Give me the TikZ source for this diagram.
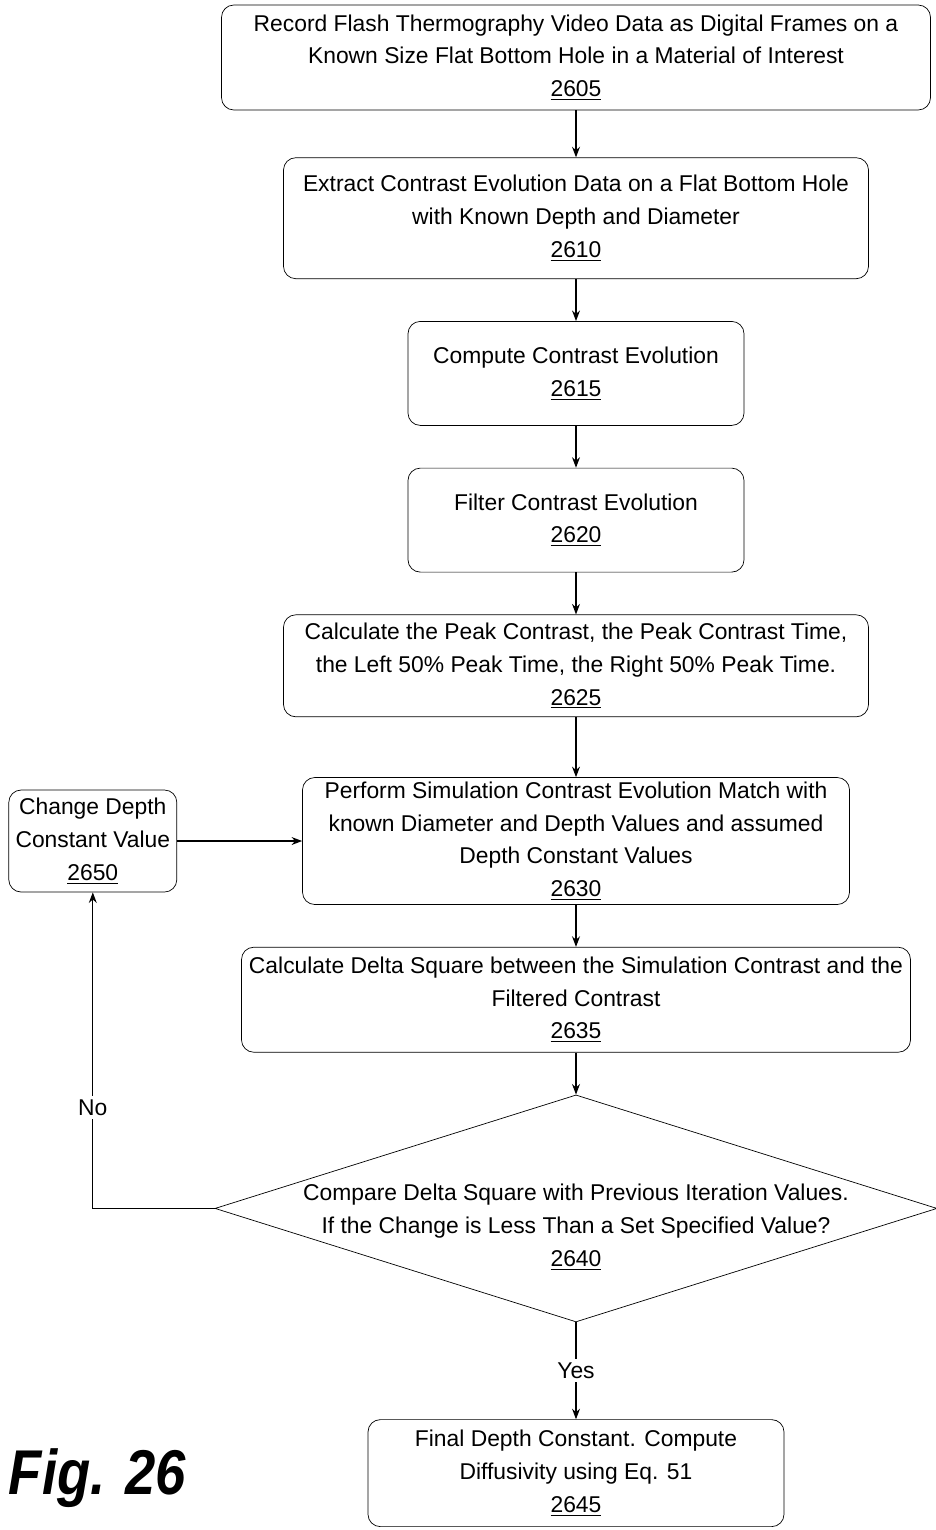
\documentclass[tikz,border=0pt]{standalone}
\usepackage{fontspec}
\setmainfont{Liberation Sans}
\newfontfamily\figfont{Liberation Sans}[FakeStretch=0.86]
\usepackage{tikz}
\usetikzlibrary{arrows.meta,shapes.geometric,positioning,calc}

\begin{document}
\begin{tikzpicture}[
    node distance=0.86cm,
    base/.style={draw, rectangle, rounded corners=7pt,
                 align=center, inner sep=1pt,
                 font=\fontsize{13}{18.7}\selectfont},
    wide/.style={base, minimum width=11.7cm},
    small/.style={base, minimum width=6.72cm, minimum height=2.08cm},
    decide/.style={draw, diamond, aspect=3.18, inner sep=0pt,
                   minimum width=14.44cm, minimum height=4.54cm},
    decidetext/.style={align=center, inner sep=0pt,
                       font=\fontsize{13}{18.7}\selectfont},
    arr/.style={-{Stealth[length=6pt,width=4.5pt]}, line width=0.7pt},
    lbl/.style={fill=white, inner sep=2pt,
                font=\fontsize{13}{15}\selectfont},
  ]
    \useasboundingbox (0,0) rectangle (18.7,-30.6);

    % ---- Main column, top to bottom ----
    \node[base, minimum width=14.18cm, minimum height=2.1cm] (A) at (11.52,-1.15)
      {Record Flash Thermography Video Data as Digital Frames on a\\
       Known Size Flat Bottom Hole in a Material of Interest\\\underline{2605}};
    \node[wide, minimum height=2.42cm, below=0.94cm of A] (B)
      {Extract Contrast Evolution Data on a Flat Bottom Hole\\
       with Known Depth and Diameter\\\underline{2610}};
    \node[small, below=0.84cm of B] (C)
      {Compute Contrast Evolution\\\underline{2615}};
    \node[small, below=0.84cm of C] (D)
      {Filter Contrast Evolution\\\underline{2620}};
    \node[wide, minimum height=2.04cm, below=0.84cm of D] (E)
      {Calculate the Peak Contrast, the Peak Contrast Time,\\
       the Left 50\% Peak Time, the Right 50\% Peak Time.\\\underline{2625}};
    \node[base, minimum width=10.94cm, minimum height=2.54cm, below=1.2cm of E] (F)
      {Perform Simulation Contrast Evolution Match with\\
       known Diameter and Depth Values and assumed\\
       Depth Constant Values\\\underline{2630}};
    \node[base, minimum width=13.38cm, minimum height=2.1cm, below=0.84cm of F] (G)
      {Calculate Delta Square between the Simulation Contrast and the\\
       Filtered Contrast\\\underline{2635}};
    \node[decide, below=0.84cm of G] (H) {};
    \node[decidetext] (Htext) at ([yshift=-0.38cm]H.center)
      {Compare Delta Square with Previous Iteration Values.\\
       If the Change is Less Than a Set Specified Value?\\\underline{2640}};
    \node[base, minimum width=8.32cm, minimum height=2.14cm, below=1.94cm of H] (I)
      {Final Depth Constant. Compute\\
       Diffusivity using Eq. 51\\\underline{2645}};

    % ---- Side box for the loop ----
    \node[base, minimum width=3.36cm, minimum height=2.04cm, left=2.5cm of F] (K)
      {Change Depth\\Constant Value\\\underline{2650}};

    % ---- Figure label ----
    \node[font=\figfont\fontsize{36}{40}\selectfont\bfseries\itshape] (fig) at (1.95,-29.56) {Fig. 26};

    % ---- Column arrows ----
    \draw[arr] (A)--(B); \draw[arr] (B)--(C);
    \draw[arr] (C)--(D); \draw[arr] (D)--(E);
    \draw[arr] (E)--(F); \draw[arr] (F)--(G);
    \draw[arr] (G)--(H.north);
    \draw[arr] (H.south) -- node[lbl]{Yes} (I);
    % ---- No loop back through 2650 ----
    \draw[arr] (H.west) -| node[lbl, pos=0.66]{No} (K.south);
    \draw[arr] (K)--(F);
  \end{tikzpicture}
\end{document}
